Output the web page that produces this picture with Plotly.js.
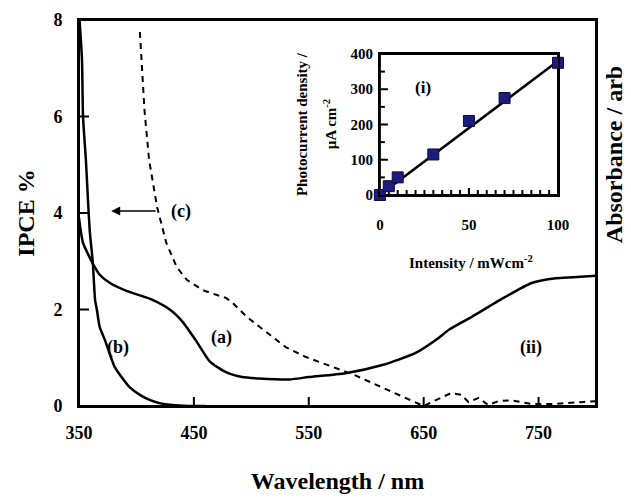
<!DOCTYPE html>
<html>
<head>
<meta charset="utf-8">
<script src="https://cdn.plot.ly/plotly-3.0.1.min.js"></script>
<style>html,body{margin:0;padding:0;background:#fff;}#chart{width:631px;height:500px;}</style>
</head>
<body>
<div id="chart"></div>
<script>
// ---- main panel data ----
const wavelengthA = [350, 353.5, 359.5, 362, 368, 377, 392, 412, 429, 440, 452, 464, 478, 492, 507, 533, 550, 582, 614, 643, 663, 672, 692, 721, 744, 765, 780, 800];
const absorbanceA = [3.9, 3.38, 3.07, 2.95, 2.72, 2.55, 2.38, 2.22, 2.0, 1.75, 1.35, 0.92, 0.7, 0.6, 0.57, 0.55, 0.6, 0.68, 0.85, 1.1, 1.41, 1.58, 1.85, 2.26, 2.55, 2.65, 2.67, 2.7];

const wavelengthB = [350.5, 352.6, 353.5, 356, 357.8, 359.5, 362, 364, 365.6, 368, 372.5, 381, 387, 394, 403, 412, 420, 431, 445, 460];
const absorbanceB = [8, 7.17, 6.0, 5.1, 4.27, 3.59, 2.98, 2.2, 1.99, 1.64, 1.37, 0.81, 0.6, 0.39, 0.23, 0.12, 0.06, 0.02, 0.0, 0.0];

const wavelengthC = [403, 407, 411, 418, 426, 435, 444, 458, 470, 478, 484, 496, 504, 515, 530, 547, 570, 590, 619, 645, 650, 657, 674, 683, 689, 698, 706, 715, 726, 744, 761, 787, 800];
const ipceC = [7.75, 6.13, 5.1, 4.12, 3.38, 2.88, 2.61, 2.4, 2.3, 2.24, 2.13, 1.85, 1.7, 1.5, 1.22, 1.02, 0.81, 0.64, 0.33, 0.06, 0.0, 0.08, 0.27, 0.23, 0.08, 0.17, 0.02, 0.1, 0.12, 0.04, 0.04, 0.08, 0.1];

const xRange = [350, 800];
const yRange = [0, 8];
const xTickVals = [350, 450, 550, 650, 750];
const yTickVals = [0, 2, 4, 6, 8];

// ---- inset data ----
const intensity = [0, 5, 10, 30, 50, 70, 100];
const photocurrent = [0, 25, 50, 115, 210, 275, 375];
const fitIntensity = [0, 100];
const fitPhotocurrent = [0, 380];
const insetXRange = [0, 100];
const insetYRange = [0, 400];
const insetXTickVals = [0, 50, 100];
const insetYTickVals = [0, 100, 200, 300, 400];
const insetXMinor = [5, 10, 15, 20, 25, 30, 35, 40, 45, 55, 60, 65, 70, 75, 80, 85, 90, 95];
const insetYMinor = [50, 150, 250, 350];

const FONT = 'Liberation Serif, Times New Roman, serif';
const bold = (size) => ({family: FONT, size: size, color: '#000', weight: 'bold'});

// ---- geometry of the figure ----
const W = 631, H = 500;
const M = {l: 79, r: 35, t: 20, b: 94};
const PLOT_W = W - M.l - M.r, PLOT_H = H - M.t - M.b;
const insetXDomain = [0.582, 0.9265];
const insetYDomain = [0.5466, 0.912];

// frame + inward ticks, built from the axis ranges and tick arrays
function frameAndTicks(xr, yr, wPx, hPx, xMajor, xMinor, yMajor, yMinor, majLen, minLen) {
  const xpp = (xr[1] - xr[0]) / wPx, ypp = (yr[1] - yr[0]) / hPx;
  const xs = [xr[0], xr[1], xr[1], xr[0], xr[0], null];
  const ys = [yr[0], yr[0], yr[1], yr[1], yr[0], null];
  const addX = (v, len) => { if (v > xr[0] && v < xr[1]) { xs.push(v, v, null); ys.push(yr[0], yr[0] + len * ypp, null); } };
  const addY = (v, len) => { if (v > yr[0] && v < yr[1]) { xs.push(xr[0], xr[0] + len * xpp, null); ys.push(v, v, null); } };
  xMajor.forEach(v => addX(v, majLen)); xMinor.forEach(v => addX(v, minLen));
  yMajor.forEach(v => addY(v, majLen + 1)); yMinor.forEach(v => addY(v, minLen));
  return {x: xs, y: ys};
}
const mainFrame = frameAndTicks(xRange, yRange, PLOT_W, PLOT_H, xTickVals, [], yTickVals, [], 9, 0);
const insetFrame = frameAndTicks(insetXRange, insetYRange,
  PLOT_W * (insetXDomain[1] - insetXDomain[0]), PLOT_H * (insetYDomain[1] - insetYDomain[0]),
  insetXTickVals, insetXMinor, insetYTickVals, insetYMinor, 7, 5);

const traces = [
  {x: wavelengthA, y: absorbanceA, type: 'scatter', mode: 'lines', line: {color: '#000', width: 2.5, shape: 'spline', smoothing: 0.6}, xaxis: 'x', yaxis: 'y', hoverinfo: 'skip'},
  {x: wavelengthB, y: absorbanceB, type: 'scatter', mode: 'lines', line: {color: '#000', width: 2.5, shape: 'spline', smoothing: 0.6}, xaxis: 'x', yaxis: 'y', hoverinfo: 'skip'},
  {x: wavelengthC, y: ipceC, type: 'scatter', mode: 'lines', line: {color: '#000', width: 2, dash: '6px,5px'}, xaxis: 'x', yaxis: 'y', hoverinfo: 'skip'},
  {x: mainFrame.x, y: mainFrame.y, type: 'scatter', mode: 'lines', line: {color: '#000', width: 2}, xaxis: 'x', yaxis: 'y', cliponaxis: false, connectgaps: false, hoverinfo: 'skip'},
  {x: insetFrame.x, y: insetFrame.y, type: 'scatter', mode: 'lines', line: {color: '#000', width: 2}, xaxis: 'x2', yaxis: 'y2', cliponaxis: false, connectgaps: false, hoverinfo: 'skip'},
  {x: fitIntensity, y: fitPhotocurrent, type: 'scatter', mode: 'lines', line: {color: '#000', width: 2.5}, xaxis: 'x2', yaxis: 'y2', cliponaxis: false},
  {x: intensity, y: photocurrent, type: 'scatter', mode: 'markers', marker: {symbol: 'square', size: 11, color: '#1c1c7a', line: {color: '#0b0b45', width: 1}}, xaxis: 'x2', yaxis: 'y2', cliponaxis: false}
];

// axis lines + label spacing (transparent outside ticks act as label offset)
function axisStyle(extra) {
  return Object.assign({showgrid: false, zeroline: false, showline: true, linecolor: '#000', linewidth: 2,
    mirror: true, ticks: 'outside', tickcolor: 'rgba(0,0,0,0)', tickwidth: 1}, extra);
}

const layout = {
  width: W, height: H,
  margin: M,
  paper_bgcolor: '#fff', plot_bgcolor: '#fff',
  showlegend: false,
  xaxis: axisStyle({
    range: xRange, tickmode: 'array', tickvals: xTickVals, ticklen: 9, anchor: 'y',
    tickfont: bold(18),
    title: {text: 'Wavelength / nm', font: bold(24)}
  }),
  yaxis: axisStyle({
    range: yRange, tickmode: 'array', tickvals: yTickVals, ticklen: 11, anchor: 'x',
    tickfont: bold(18),
    title: {text: 'IPCE %', font: bold(24), standoff: 12}
  }),
  xaxis2: axisStyle({
    domain: insetXDomain, anchor: 'y2', range: insetXRange, tickmode: 'array', tickvals: insetXTickVals, ticklen: 15,
    tickfont: bold(15)
  }),
  yaxis2: axisStyle({
    domain: insetYDomain, anchor: 'x2', range: insetYRange, tickmode: 'array', tickvals: insetYTickVals, ticklen: 2,
    tickfont: bold(15)
  }),
  annotations: [
    {xref: 'x', yref: 'y', x: 439, y: 4.04, text: '(c)', showarrow: false, font: bold(18), xanchor: 'center', yanchor: 'middle'},
    {xref: 'x', yref: 'y', x: 378, y: 4.04, ax: 418, ay: 4.04, axref: 'x', ayref: 'y', text: '', showarrow: true, arrowhead: 2, arrowsize: 1.2, arrowwidth: 1.5, arrowcolor: '#000'},
    {xref: 'x', yref: 'y', x: 474, y: 1.43, text: '(a)', showarrow: false, font: bold(18), xanchor: 'center', yanchor: 'middle'},
    {xref: 'x', yref: 'y', x: 384, y: 1.22, text: '(b)', showarrow: false, font: bold(18), xanchor: 'center', yanchor: 'middle'},
    {xref: 'x', yref: 'y', x: 743, y: 1.22, text: '(ii)', showarrow: false, font: bold(18), xanchor: 'center', yanchor: 'middle'},
    {xref: 'x2', yref: 'y2', x: 24, y: 306, text: '(i)', showarrow: false, font: bold(17), xanchor: 'center', yanchor: 'middle'},
    {xref: 'paper', yref: 'paper', x: 0.431, y: 0.73, text: 'Photocurrent density /', textangle: -90, showarrow: false, font: bold(15), xanchor: 'center', yanchor: 'middle'},
    {xref: 'paper', yref: 'paper', x: 0.4855, y: 0.73, text: 'µA cm<sup>-2</sup>', textangle: -90, showarrow: false, font: bold(15), xanchor: 'center', yanchor: 'middle'},
    {xref: 'paper', yref: 'paper', x: 0.758, y: 0.373, text: 'Intensity / mWcm<sup>-2</sup>', showarrow: false, font: bold(15), xanchor: 'center', yanchor: 'middle'},
    {xref: 'paper', yref: 'paper', x: 1.035, y: 0.65, text: 'Absorbance / arb', textangle: -90, showarrow: false, font: bold(24), xanchor: 'center', yanchor: 'middle'}
  ]
};

Plotly.newPlot('chart', traces, layout, {displayModeBar: false, staticPlot: true});
</script>
</body>
</html>
